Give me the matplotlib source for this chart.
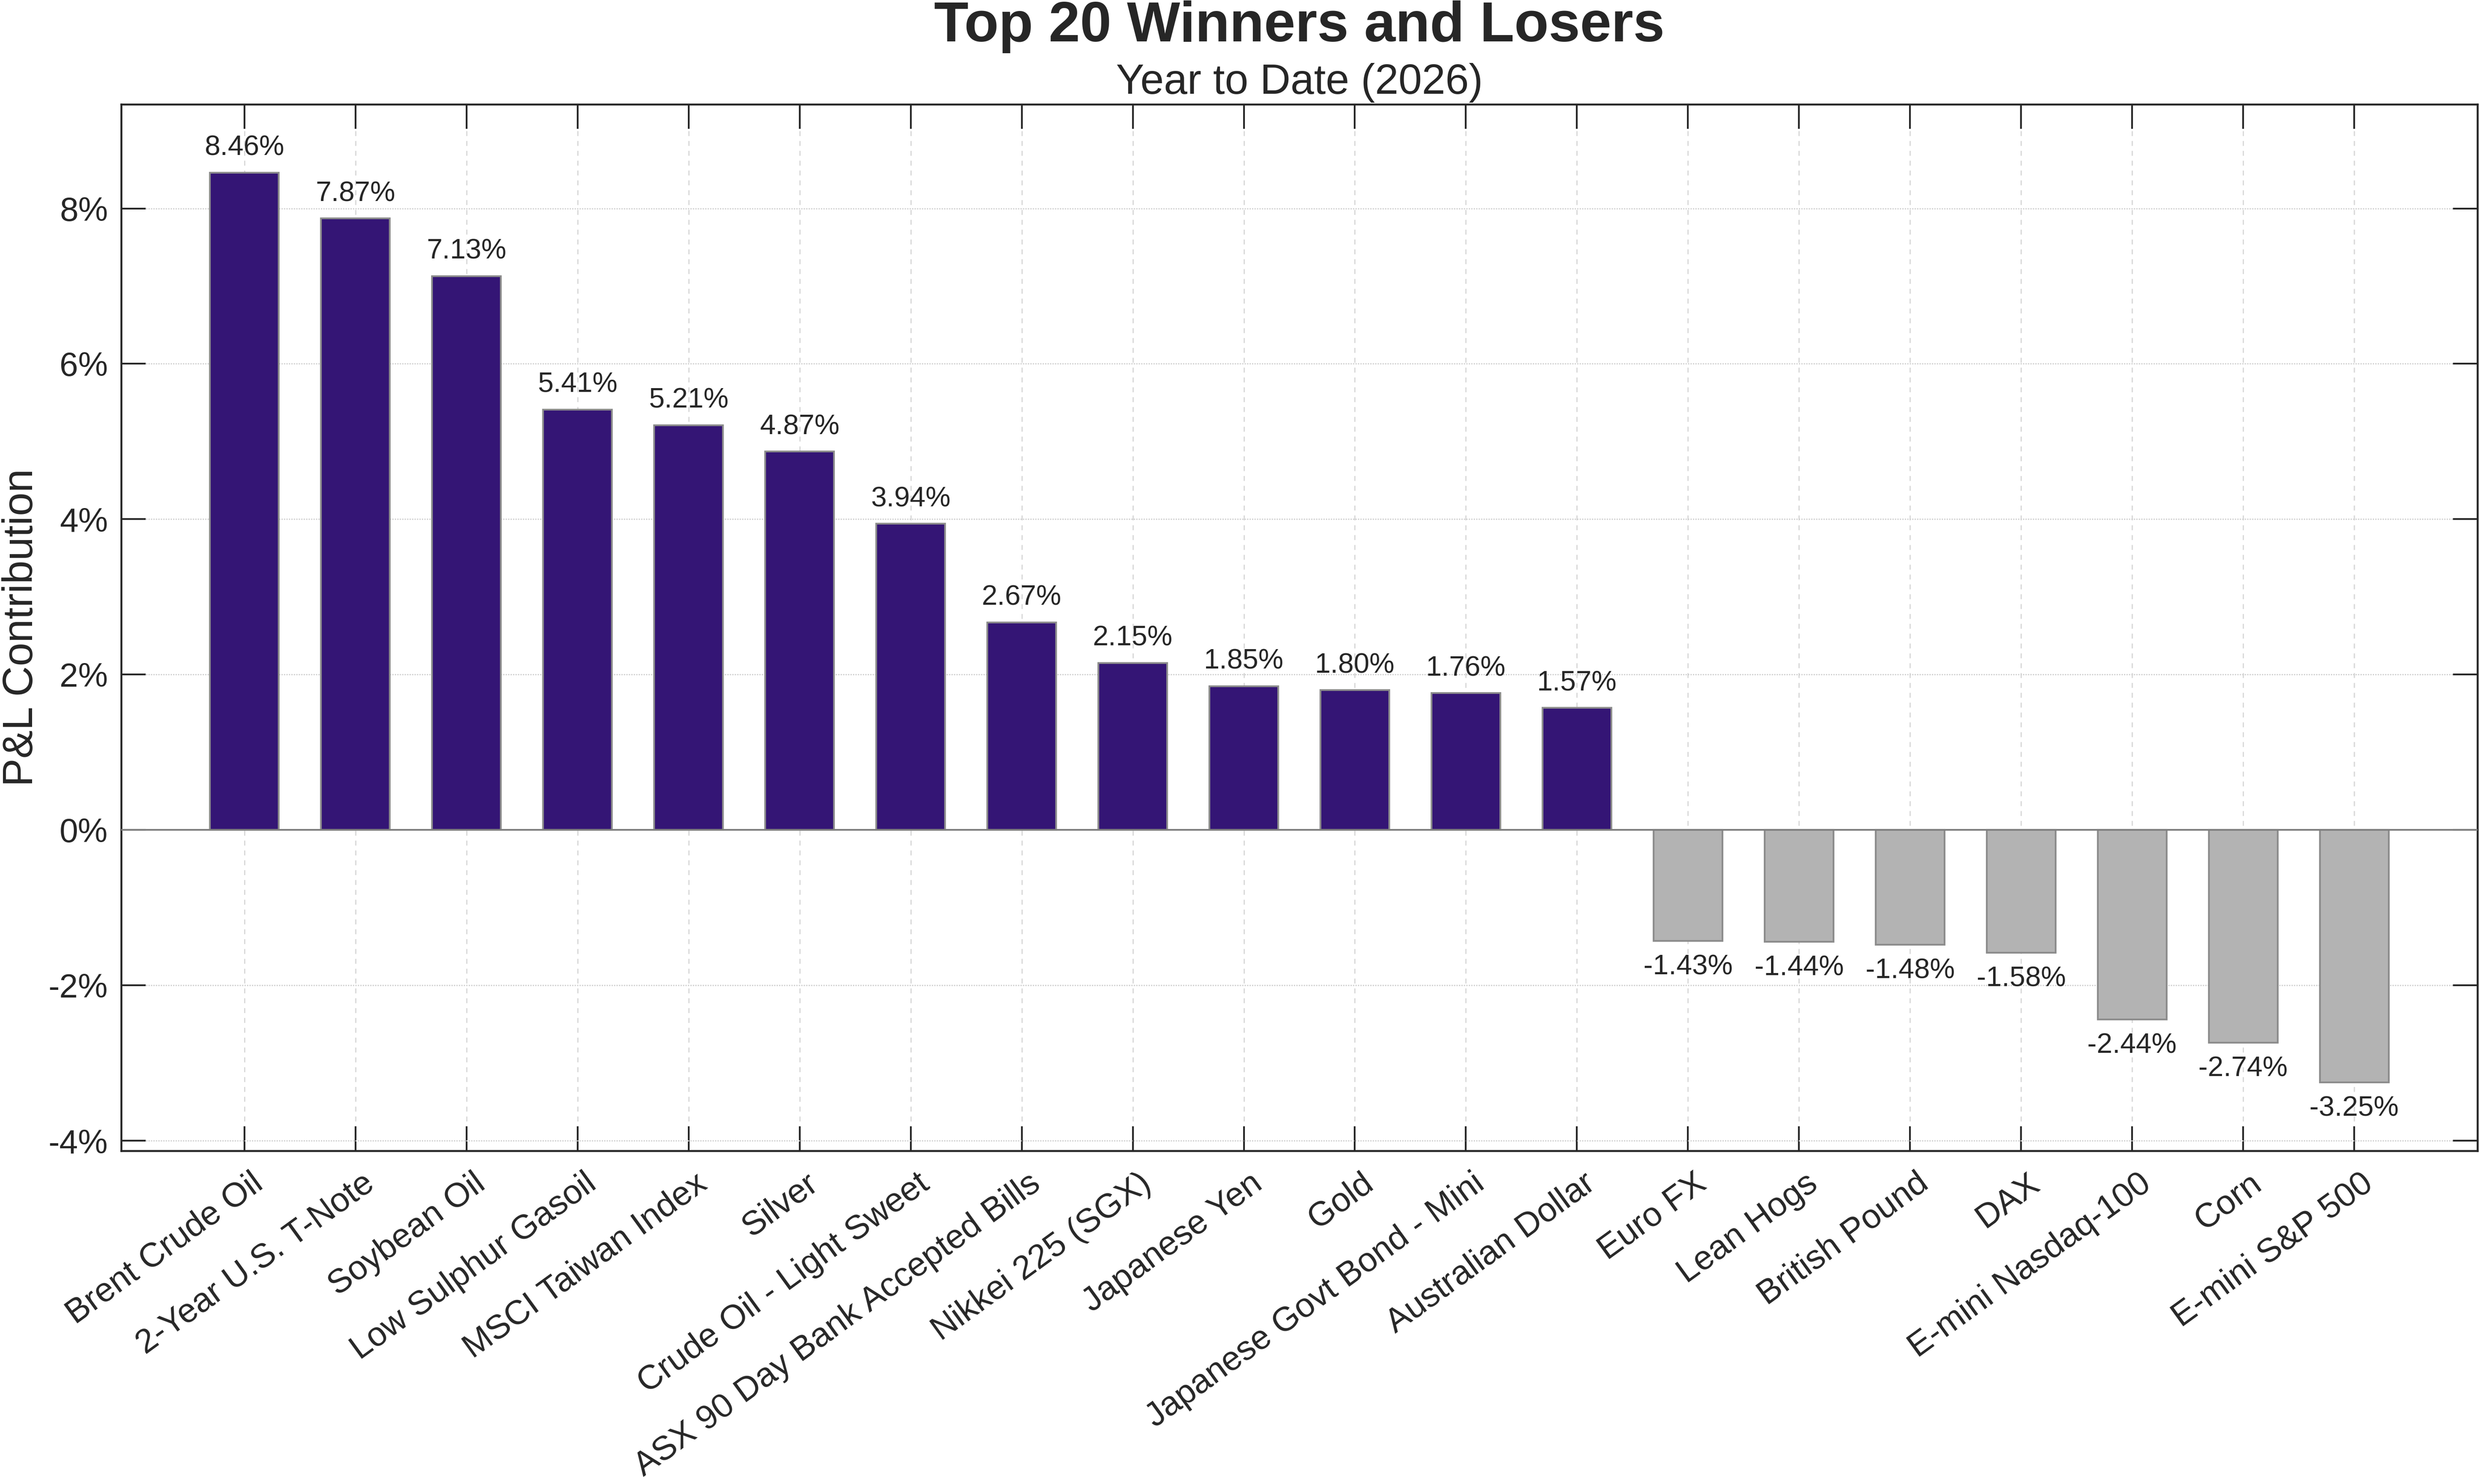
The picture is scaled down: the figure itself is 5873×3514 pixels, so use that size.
import numpy as np
import matplotlib
matplotlib.use("Agg")
import matplotlib.pyplot as plt
from matplotlib.transforms import ScaledTranslation

# ---- data ----
instruments = [
    "Brent Crude Oil", "2-Year U.S. T-Note", "Soybean Oil", "Low Sulphur Gasoil",
    "MSCI Taiwan Index", "Silver", "Crude Oil - Light Sweet",
    "ASX 90 Day Bank Accepted Bills", "Nikkei 225 (SGX)", "Japanese Yen", "Gold",
    "Japanese Govt Bond - Mini", "Australian Dollar", "Euro FX", "Lean Hogs",
    "British Pound", "DAX", "E-mini Nasdaq-100", "Corn", "E-mini S&P 500",
]
pnl = [8.46, 7.87, 7.13, 5.41, 5.21, 4.87, 3.94, 2.67, 2.15, 1.85, 1.80, 1.76, 1.57,
       -1.43, -1.44, -1.48, -1.58, -2.44, -2.74, -3.25]
yticks = [-4, -2, 0, 2, 4, 6, 8]

TXT = "#262626"
POS = "#341575"
NEG = "#b3b3b3"

plt.rcParams["font.family"] = ["Liberation Sans", "DejaVu Sans"]

fig = plt.figure(figsize=(5873 / 300, 3514 / 300), dpi=300)
ax = fig.add_axes([287 / 5873, 1 - 2725 / 3514, (5867 - 287) / 5873, (2725 - 247) / 3514])

x = np.arange(len(pnl))
vals = np.array(pnl)
colors = [POS if v > 0 else NEG for v in vals]
ax.bar(x, vals, width=0.62, color=colors, edgecolor="#8c8c8c", linewidth=1.0, zorder=3)
ax.axhline(0, color="#7f7f7f", linewidth=1.0, zorder=4)

# value labels above / below the bars
for xi, v in zip(x, vals):
    if v > 0:
        ax.annotate(f"{v:.2f}%", (xi, v), xytext=(0, 6.5), textcoords="offset points",
                    ha="center", va="bottom", fontsize=16, color=TXT, zorder=5)
    else:
        ax.annotate(f"{v:.2f}%", (xi, v), xytext=(0, -7.5), textcoords="offset points",
                    ha="center", va="top", fontsize=16, color=TXT, zorder=5)

ax.set_xlim(-1.11, len(pnl) - 1 + 1.11)
ax.set_ylim(-4.13, 9.34)
ax.set_yticks(yticks)
ax.set_yticklabels([f"{t}%" for t in yticks])
ax.set_xticks(x)
ax.set_xticklabels(instruments, rotation=36, ha="right", va="top", rotation_mode="anchor")

ax.tick_params(axis="both", direction="in", length=14, width=1.0, color=TXT,
               labelcolor=TXT, labelsize=19, top=True, right=True)
ax.tick_params(axis="x", pad=9.5, labelsize=19.3)
ax.tick_params(axis="y", pad=7.5)
for lab in ax.get_xticklabels():
    lab.set_transform(lab.get_transform() + ScaledTranslation(14 / 300, 0, fig.dpi_scale_trans))

ax.yaxis.grid(True, linestyle=(0, (1, 1)), color="#cfcfcf", linewidth=0.7, zorder=0)
ax.xaxis.grid(True, linestyle=(0, (4, 4)), color="#d9d9d9", linewidth=0.7, zorder=0)
ax.set_axisbelow(True)
for s in ax.spines.values():
    s.set_color(TXT)
    s.set_linewidth(1.1)

ax.set_ylabel("P&L Contribution", fontsize=24, color=TXT)
ax.yaxis.set_label_coords(-0.0339, 0.5)

xc = (287 + 5867) / 2 / 5873
fig.text(xc, 1 - 98 / 3514, "Top 20 Winners and Losers", ha="center", va="baseline",
         fontsize=32, fontweight="bold", color=TXT)
fig.text(xc, 1 - 222 / 3514, "Year to Date (2026)", ha="center", va="baseline",
         fontsize=24, color=TXT)

fig.savefig("out.png", dpi=300, facecolor="white")
